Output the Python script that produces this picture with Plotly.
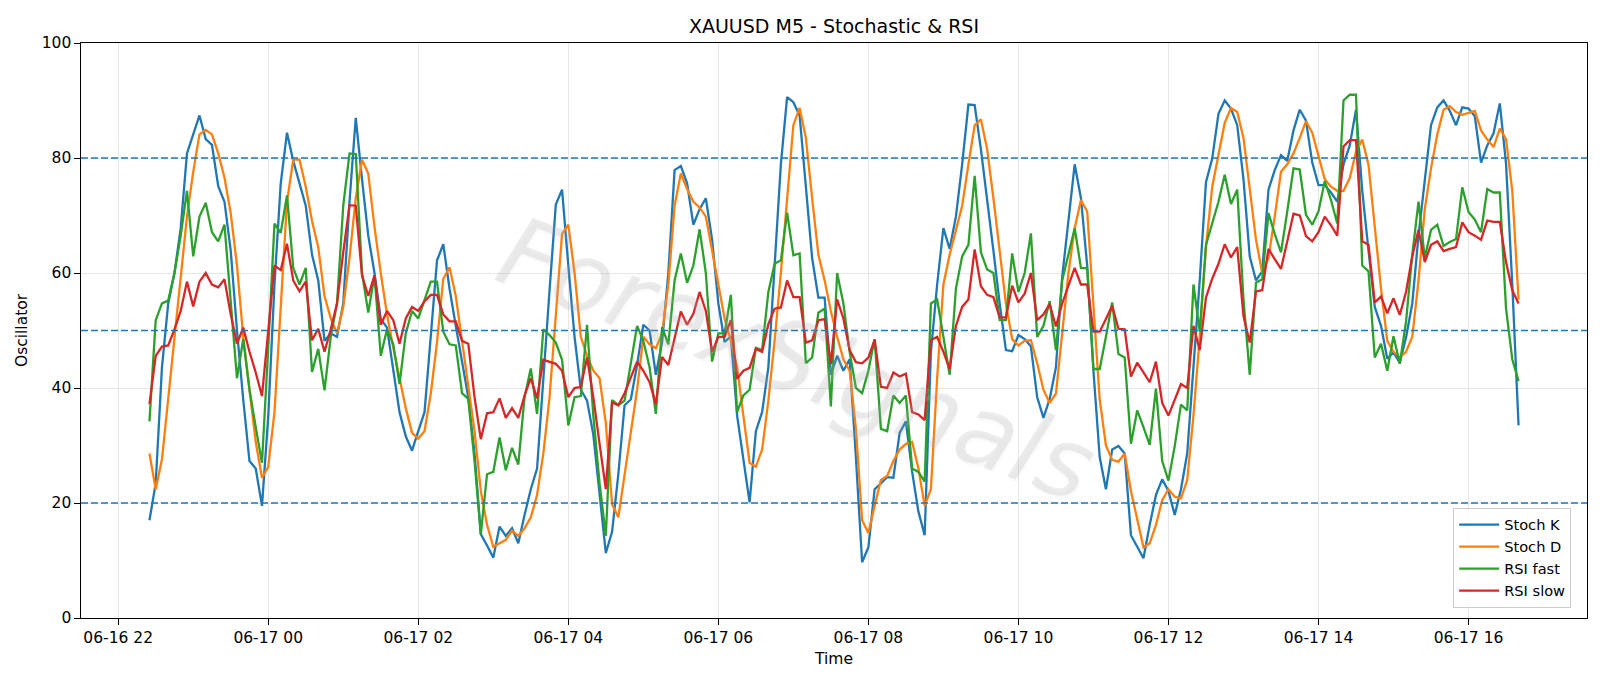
import pandas as pd
import plotly.graph_objects as go

start_time = "2024-06-16 22:25"

stoch_k = [17.0, 23.4, 43.6, 54.7, 60.0, 67.8, 80.8, 84.1, 87.4, 83.3, 82.3, 75.1, 72.4, 63.9, 50.0, 38.0, 27.3, 26.0, 19.5, 35.0,
           58.0, 75.6, 84.4, 79.5, 75.6, 71.7, 63.2, 58.7, 48.2, 49.5, 48.9, 54.7, 72.4, 87.0, 76.3, 66.5, 60.0, 52.0, 50.5, 43.0,
           35.8, 31.6, 29.1, 32.5, 35.8, 49.0, 62.2, 65.0, 57.3, 50.8, 44.3, 38.4, 28.6, 14.6, 12.6, 10.5, 15.9, 14.3, 15.6, 13.0,
           17.9, 22.4, 26.0, 42.0, 57.0, 71.9, 74.5, 61.3, 48.9, 39.7, 37.8, 31.9, 22.1, 11.3, 15.0, 25.0, 37.0, 38.0, 44.0, 51.0,
           50.0, 42.3, 48.0, 60.0, 77.9, 78.6, 75.6, 68.4, 71.1, 73.0, 65.8, 54.7, 48.0, 49.0, 35.2, 28.0, 20.1, 32.5, 35.8, 43.6,
           61.9, 78.9, 90.6, 89.7, 87.4, 74.3, 62.6, 55.7, 55.7, 42.3, 45.6, 43.0, 45.0, 28.0, 9.7, 12.3, 22.4, 23.4, 24.5, 24.4,
           32.2, 34.2, 25.4, 18.5, 14.4, 46.3, 58.0, 67.8, 64.2, 69.8, 78.9, 89.3, 89.2, 81.5, 73.0, 63.9, 54.7, 46.6, 46.4, 49.2,
           48.5, 47.2, 38.4, 34.8, 38.1, 43.6, 59.3, 69.1, 78.9, 73.0, 61.3, 43.0, 28.0, 22.4, 29.3, 29.9, 28.6, 14.4, 12.3, 10.4,
           16.2, 21.4, 24.1, 22.1, 17.9, 22.4, 28.6, 43.6, 58.7, 75.8, 79.9, 87.7, 90.0, 88.6, 85.7, 76.3, 62.9, 58.7, 60.3, 74.5,
           77.9, 80.5, 79.5, 84.8, 88.4, 86.5, 79.2, 75.3, 75.3, 74.0, 72.4, 78.9, 82.2, 88.4, 74.3, 63.9, 54.1, 50.8, 45.1, 46.2,
           44.4, 48.8, 54.7, 66.5, 76.3, 85.7, 88.8, 90.0, 88.2, 85.7, 88.8, 88.6, 87.3, 79.2, 82.2, 84.3, 89.5, 79.0, 58.0, 33.5]

stoch_d = [28.6, 22.4, 27.6, 38.4, 49.5, 60.0, 69.8, 77.6, 84.1, 84.9, 84.1, 80.8, 76.6, 70.4, 61.3, 48.9, 39.7, 30.6, 24.4, 26.3,
           35.8, 54.7, 72.4, 79.7, 79.7, 75.0, 69.1, 64.5, 56.0, 52.1, 49.5, 54.1, 62.6, 73.0, 79.7, 77.3, 68.0, 60.0, 52.8, 47.0,
           41.7, 36.5, 32.2, 31.2, 32.5, 39.0, 48.0, 59.0, 61.0, 56.0, 48.2, 40.4, 32.5, 22.1, 16.2, 12.4, 13.0, 13.6, 15.2, 14.3,
           15.6, 17.5, 21.4, 28.6, 38.4, 53.4, 66.8, 68.4, 60.0, 48.9, 45.6, 43.0, 41.7, 33.9, 19.8, 17.5, 24.7, 31.9, 39.7, 48.9,
           47.6, 46.9, 49.5, 58.0, 71.7, 77.3, 74.6, 72.4, 71.4, 69.8, 63.9, 57.3, 52.1, 48.2, 43.6, 35.2, 27.0, 26.3, 29.3, 37.8,
           48.2, 60.0, 72.4, 85.7, 88.7, 83.5, 73.0, 63.2, 58.7, 53.4, 48.9, 45.0, 43.0, 33.0, 17.0, 14.8, 19.5, 24.0, 24.7, 27.3,
           29.3, 30.3, 30.6, 26.0, 19.5, 22.4, 41.7, 58.0, 63.2, 67.5, 71.7, 78.9, 85.7, 86.7, 81.5, 73.0, 63.9, 54.7, 48.5, 47.4,
           48.2, 48.3, 44.3, 39.7, 37.4, 39.0, 49.5, 60.0, 67.8, 72.7, 70.7, 55.0, 38.0, 30.0, 27.5, 27.2, 28.6, 22.1, 16.9, 12.3,
           13.0, 16.2, 20.5, 22.4, 21.1, 20.8, 24.0, 35.2, 48.9, 64.5, 75.0, 80.8, 86.1, 88.7, 88.0, 83.5, 75.0, 65.8, 60.0, 62.6,
           69.8, 77.6, 78.9, 80.8, 83.5, 86.4, 84.4, 80.2, 76.3, 75.0, 74.3, 74.3, 76.5, 81.1, 83.2, 78.8, 67.8, 57.3, 48.2, 46.3,
           45.3, 46.3, 48.9, 58.7, 71.1, 78.2, 84.1, 88.4, 89.0, 88.0, 87.5, 87.9, 88.2, 84.8, 83.2, 81.9, 85.1, 83.3, 74.3, 55.4]

rsi_fast = [34.2, 51.8, 54.7, 55.2, 60.0, 66.5, 74.3, 62.9, 69.8, 72.2, 67.1, 65.5, 68.4, 55.4, 41.7, 48.5, 39.7, 33.2, 27.0, 47.0,
            68.6, 67.0, 73.5, 60.9, 58.0, 60.9, 42.8, 46.8, 39.6, 48.9, 54.7, 71.7, 80.8, 80.7, 60.0, 53.1, 59.6, 45.6, 50.2, 47.6,
            40.7, 49.5, 53.4, 52.1, 55.4, 58.5, 58.5, 49.8, 47.6, 47.4, 39.1, 38.1, 27.3, 14.6, 25.0, 25.4, 31.4, 25.7, 29.6, 26.7,
            38.4, 43.4, 35.5, 50.2, 49.2, 47.9, 44.9, 33.5, 38.4, 38.6, 51.0, 35.2, 23.4, 14.3, 37.9, 37.0, 37.8, 44.3, 50.8, 48.2,
            43.6, 35.5, 50.6, 47.6, 58.7, 63.4, 58.3, 61.3, 67.6, 60.0, 44.6, 49.5, 49.5, 56.2, 35.8, 38.7, 39.7, 47.0, 46.6, 56.7,
            61.6, 62.2, 70.5, 63.1, 63.4, 44.3, 45.3, 53.1, 53.8, 36.8, 60.0, 54.7, 46.3, 40.0, 39.1, 43.0, 48.5, 32.9, 32.5, 38.7,
            37.4, 38.7, 26.0, 25.4, 23.7, 54.7, 55.4, 48.9, 42.3, 57.3, 62.9, 64.9, 76.9, 63.6, 60.6, 60.0, 51.8, 51.8, 63.4, 56.7,
            60.0, 66.9, 48.9, 50.8, 55.1, 46.6, 58.7, 63.2, 67.8, 60.9, 60.8, 43.3, 43.3, 48.9, 54.9, 45.9, 45.3, 30.3, 36.1, 33.2,
            30.1, 39.9, 27.3, 23.9, 29.9, 37.1, 36.1, 58.0, 49.8, 64.9, 68.8, 72.4, 77.1, 72.0, 74.5, 55.4, 42.3, 58.3, 58.9, 70.4,
            66.8, 63.6, 70.7, 78.2, 78.0, 70.1, 68.4, 70.7, 76.0, 72.7, 68.6, 90.0, 91.0, 91.0, 61.3, 60.3, 45.3, 47.7, 43.0, 49.0,
            44.2, 51.5, 63.2, 72.4, 62.6, 67.5, 68.4, 64.7, 65.4, 65.9, 74.9, 70.6, 69.3, 67.1, 74.6, 74.0, 74.0, 53.8, 45.0, 41.2]

rsi_slow = [37.2, 45.6, 47.2, 47.4, 50.2, 53.4, 58.5, 54.2, 58.5, 60.0, 58.0, 57.5, 58.9, 52.8, 47.7, 50.5, 46.3, 42.7, 38.6, 50.2,
            61.3, 60.5, 65.1, 58.7, 56.8, 58.5, 48.3, 50.3, 46.3, 50.2, 54.7, 63.6, 71.8, 71.7, 59.6, 56.0, 59.6, 51.0, 53.4, 51.8,
            47.7, 52.1, 54.1, 53.4, 55.1, 56.2, 56.2, 52.8, 51.6, 51.6, 48.2, 47.7, 38.4, 31.1, 35.6, 35.8, 38.2, 34.8, 36.5, 34.8,
            38.7, 41.7, 38.2, 44.9, 44.6, 44.2, 43.0, 38.4, 40.0, 40.2, 45.3, 38.4, 30.3, 22.4, 37.5, 37.0, 39.1, 41.7, 44.6, 43.0,
            41.0, 37.2, 45.4, 44.0, 48.9, 53.3, 51.0, 52.9, 56.7, 53.4, 46.3, 48.9, 48.9, 51.8, 41.6, 43.0, 43.5, 46.8, 46.3, 51.1,
            53.8, 54.0, 58.7, 55.8, 55.8, 47.9, 48.3, 51.8, 52.0, 44.2, 55.4, 52.1, 46.6, 44.5, 44.3, 45.3, 48.4, 40.2, 40.0, 42.7,
            42.0, 42.5, 35.8, 35.4, 34.4, 48.3, 48.9, 46.3, 43.3, 50.8, 54.1, 55.4, 64.1, 57.7, 56.2, 55.8, 52.3, 52.3, 57.8, 54.9,
            56.4, 60.0, 51.8, 52.8, 54.6, 50.7, 54.7, 57.7, 60.9, 58.0, 58.0, 49.8, 49.8, 52.0, 54.3, 50.3, 50.2, 42.0, 44.4, 42.7,
            41.0, 44.6, 37.4, 35.2, 37.8, 40.7, 40.0, 50.8, 46.6, 55.7, 59.0, 61.6, 65.0, 62.7, 64.5, 52.5, 47.9, 56.8, 57.0, 64.2,
            62.4, 60.7, 65.5, 70.3, 70.0, 66.4, 65.5, 67.1, 69.8, 68.3, 66.5, 82.0, 83.1, 83.1, 65.5, 64.9, 54.9, 55.9, 53.0, 55.6,
            52.7, 56.7, 62.9, 67.5, 61.9, 64.9, 65.5, 63.8, 64.2, 64.5, 68.8, 67.1, 66.5, 65.8, 69.1, 68.9, 68.9, 61.9, 57.0, 54.7]

levels = [80, 50, 20]
series_names = ["Stoch K", "Stoch D", "RSI fast", "RSI slow"]
series_colors = ["#1f77b4", "#ff7f0e", "#2ca02c", "#d62728"]

times = pd.date_range(start_time, periods=len(stoch_k), freq="5min")
span = times[-1] - times[0]
x_lo = times[0] - span * 0.05
x_hi = times[-1] + span * 0.05

FONT = "DejaVu Sans"
fig = go.Figure()

for name, vals, col in zip(series_names, [stoch_k, stoch_d, rsi_fast, rsi_slow], series_colors):
    fig.add_trace(go.Scatter(x=times, y=vals, mode="lines", name=name,
                             line=dict(color=col, width=2.3)))

for lv in levels:
    fig.add_hline(y=lv, line=dict(color="#1f77b4", width=1.5, dash="7px,3px"))

# faint watermark
fig.add_annotation(text="ForexSignals", xref="paper", yref="paper", x=0.475, y=0.45,
                   showarrow=False, textangle=21,
                   font=dict(family=FONT, size=98, color="rgba(175,175,175,0.22)", style="italic",
                             shadow="2px 2px 2px rgba(130,130,130,0.22)"))

fig.update_layout(
    width=1600, height=686,
    margin=dict(l=80.5, r=13.3, t=43, b=67.5),
    paper_bgcolor="white", plot_bgcolor="white",
    font=dict(family=FONT, size=15.5, color="black"),
    title=dict(text="XAUUSD M5 - Stochastic & RSI", x=0.5, xref="paper", xanchor="center",
               y=1 - 26.5 / 686, yref="container", yanchor="middle",
               font=dict(family=FONT, size=19, color="black")),
    showlegend=True,
    legend=dict(x=0.9895, y=0.018, xanchor="right", yanchor="bottom",
                bgcolor="rgba(255,255,255,0.85)", bordercolor="#cccccc", borderwidth=1,
                font=dict(family=FONT, size=14.6), tracegroupgap=0, itemwidth=40),
)

fig.update_xaxes(range=[x_lo, x_hi], type="date", tickformat="%m-%d %H",
                 tick0="2024-06-16 00:00", dtick=2 * 3600 * 1000,
                 showgrid=True, gridcolor="#e6e6e6", gridwidth=1,
                 showline=True, linecolor="black", linewidth=1.3, mirror=True,
                 ticks="outside", ticklen=5.5, tickwidth=1.3, tickcolor="black",
                 title=dict(text="Time", standoff=6, font=dict(family=FONT, size=15.5)),
                 zeroline=False)
fig.update_yaxes(range=[0, 100], tickvals=[0, 20, 40, 60, 80, 100],
                 showgrid=True, gridcolor="#e6e6e6", gridwidth=1,
                 showline=True, linecolor="black", linewidth=1.3, mirror=True,
                 ticks="outside", ticklen=5.5, tickwidth=1.3, tickcolor="black",
                 title=dict(text="Oscillator", standoff=10, font=dict(family=FONT, size=15.5)),
                 zeroline=False)

fig.write_html("out.html")
